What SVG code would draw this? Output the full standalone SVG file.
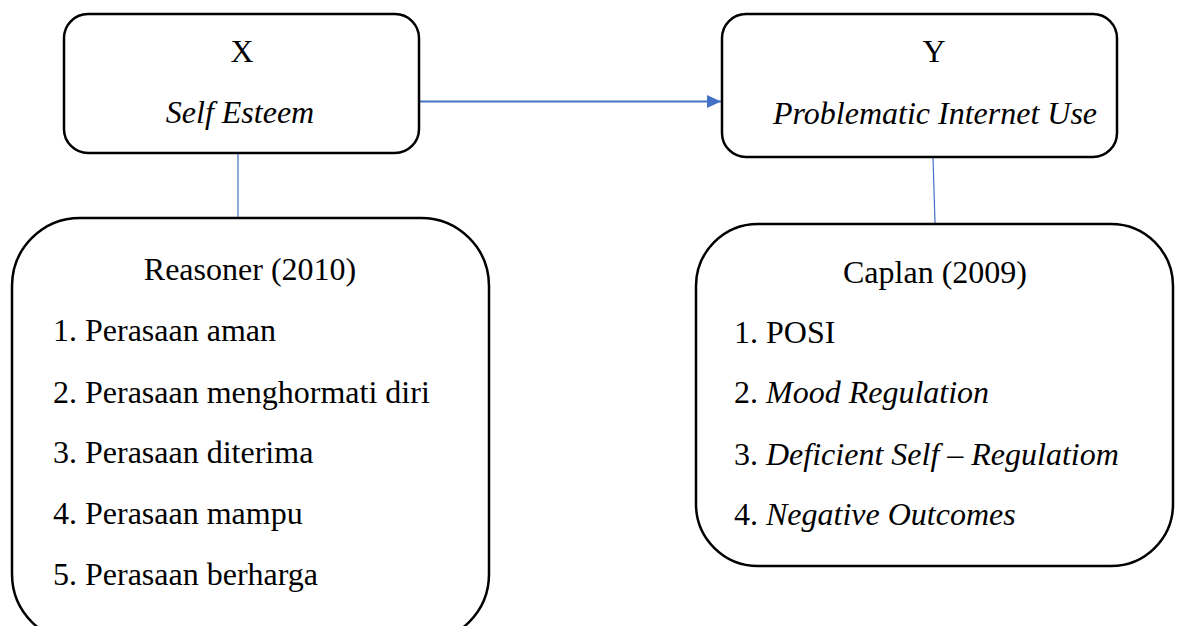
<svg xmlns="http://www.w3.org/2000/svg" width="1179" height="626" viewBox="0 0 1179 626">
<style>
.box{fill:#fff;stroke:#000;stroke-width:2.5}
.t{font-family:"Liberation Serif","Times New Roman",serif;font-size:32px;fill:#000}
.c{text-anchor:middle}
.i{font-style:italic}
.conn{stroke:#4472C4;fill:none}
</style>
<defs>
<marker id="ah" markerWidth="14" markerHeight="13" refX="14" refY="6.5" orient="auto" markerUnits="userSpaceOnUse">
<path d="M0,0 L14,6.5 L0,13 Z" fill="#4472C4"/>
</marker>
</defs>
<rect width="1179" height="626" fill="#fff"/>
<g id="connectors">
<line class="conn" x1="419" y1="101.5" x2="721" y2="101.5" stroke-width="2" marker-end="url(#ah)"/>
<line class="conn" x1="238" y1="153" x2="238" y2="218" stroke-width="1.2"/>
<line class="conn" x1="933" y1="157" x2="935" y2="223" stroke-width="1.2"/>
</g>
<g id="node-x">
<rect class="box" x="64" y="14" width="355" height="139" rx="24" ry="24"/>
<text class="t c" x="242" y="62">X</text>
<text class="t c i" x="240" y="123">Self Esteem</text>
</g>
<g id="node-y">
<rect class="box" x="722" y="14" width="395" height="143" rx="24" ry="24"/>
<text class="t c" x="934" y="62">Y</text>
<text class="t c i" x="935" y="124">Problematic Internet Use</text>
</g>
<g id="node-reasoner">
<rect class="box" x="12" y="218" width="477" height="424" rx="68" ry="68"/>
<text class="t c" x="250" y="280">Reasoner (2010)</text>
<text class="t" x="53" y="341">1. Perasaan aman</text>
<text class="t" x="53" y="403">2. Perasaan menghormati diri</text>
<text class="t" x="53" y="463">3. Perasaan diterima</text>
<text class="t" x="53" y="524">4. Perasaan mampu</text>
<text class="t" x="53" y="585">5. Perasaan berharga</text>
</g>
<g id="node-caplan">
<rect class="box" x="696" y="224" width="477" height="342" rx="62" ry="62"/>
<text class="t c" x="935" y="283">Caplan (2009)</text>
<text class="t" x="734" y="343">1. POSI</text>
<text class="t" x="734" y="403">2. <tspan class="i">Mood Regulation</tspan></text>
<text class="t" x="734" y="465">3. <tspan class="i">Deficient Self – Regulatiom</tspan></text>
<text class="t" x="734" y="525">4. <tspan class="i">Negative Outcomes</tspan></text>
</g>
</svg>
